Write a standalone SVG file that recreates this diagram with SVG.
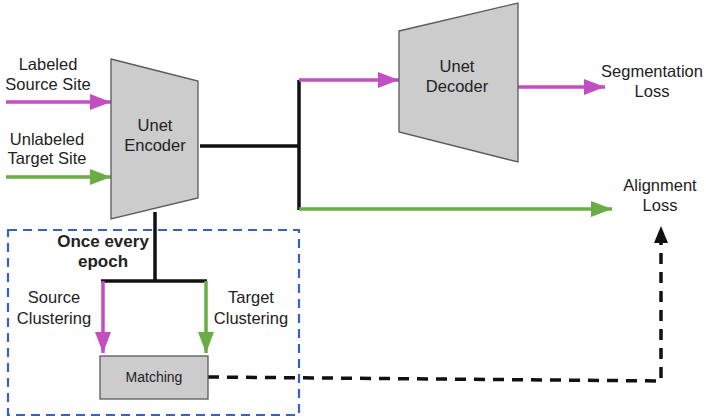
<svg xmlns="http://www.w3.org/2000/svg" width="706" height="419" viewBox="0 0 706 419">
<style>
text{font-family:"Liberation Sans",Arial,sans-serif;font-size:16.5px;fill:#222;text-anchor:middle}
.b{font-weight:bold;font-size:17px}
.s{font-size:14px}
.blk{fill:#cccccc;stroke:#595959;stroke-width:1.3}
.mg{stroke:#c24fbf;stroke-width:3.5;fill:none}
.gr{stroke:#6aad45;stroke-width:3.5;fill:none}
.k{stroke:#111;stroke-width:3.5;fill:none}
.kd{stroke:#111;stroke-width:3.5;fill:none;stroke-dasharray:11 8}
</style>
<defs>
<marker id="am" markerUnits="userSpaceOnUse" markerWidth="22" markerHeight="16" refX="21" refY="8" orient="auto"><path d="M0,0 L21,8 L0,16 Z" fill="#c24fbf"/></marker>
<marker id="ag" markerUnits="userSpaceOnUse" markerWidth="22" markerHeight="16" refX="21" refY="8" orient="auto"><path d="M0,0 L21,8 L0,16 Z" fill="#6aad45"/></marker>
<marker id="ak" markerUnits="userSpaceOnUse" markerWidth="18" markerHeight="14" refX="17" refY="7" orient="auto"><path d="M0,0 L17,7 L0,14 Z" fill="#111"/></marker>
</defs>
<rect width="706" height="419" fill="#fff"/>
<g id="region">
<rect x="8" y="230" width="291" height="185" fill="none" stroke="#3763c0" stroke-width="2.2" stroke-dasharray="9 6"/>
</g>
<g id="connectors">
<line class="mg" x1="6" y1="102" x2="111" y2="102" marker-end="url(#am)"/>
<line class="gr" x1="6" y1="177" x2="111" y2="177" marker-end="url(#ag)"/>
<line class="k" x1="200" y1="146" x2="299" y2="146"/>
<line class="k" x1="299" y1="80" x2="299" y2="210"/>
<polyline class="mg" points="299,80 399,80" marker-end="url(#am)"/>
<polyline class="gr" points="299,209 612,209" marker-end="url(#ag)"/>
<line class="mg" x1="518" y1="87" x2="605" y2="87" marker-end="url(#am)"/>
<line class="k" x1="155" y1="212" x2="155" y2="281"/>
<line class="k" x1="101" y1="281" x2="207" y2="281"/>
<line class="mg" x1="103" y1="281" x2="103" y2="353" marker-end="url(#am)"/>
<line class="gr" x1="206" y1="281" x2="206" y2="353" marker-end="url(#ag)"/>
<polyline class="kd" points="208,377 661,381 661,226" marker-end="url(#ak)"/>
</g>
<g id="encoder">
<polygon class="blk" points="111,59 198,81 198,198 111,219"/>
<text x="155" y="131">Unet</text>
<text x="155" y="151">Encoder</text>
</g>
<g id="decoder">
<polygon class="blk" points="399,31 518,3 518,162 399,132"/>
<text x="457" y="72">Unet</text>
<text x="457" y="92">Decoder</text>
</g>
<g id="matching">
<rect class="blk" x="100" y="356" width="108" height="43"/>
<text class="s" x="154" y="382">Matching</text>
</g>
<g id="source-label">
<text x="48" y="70">Labeled</text>
<text x="48" y="90">Source Site</text>
</g>
<g id="target-label">
<text x="47" y="145">Unlabeled</text>
<text x="47" y="164">Target Site</text>
</g>
<g id="seg-loss">
<text x="652" y="77">Segmentation</text>
<text x="652" y="97">Loss</text>
</g>
<g id="align-loss">
<text x="660" y="191">Alignment</text>
<text x="660" y="211">Loss</text>
</g>
<g id="epoch-label">
<text class="b" x="103" y="247">Once every</text>
<text class="b" x="103" y="267">epoch</text>
</g>
<g id="src-clust">
<text x="54" y="303">Source</text>
<text x="54" y="324">Clustering</text>
</g>
<g id="tgt-clust">
<text x="251" y="303">Target</text>
<text x="251" y="324">Clustering</text>
</g>
</svg>
